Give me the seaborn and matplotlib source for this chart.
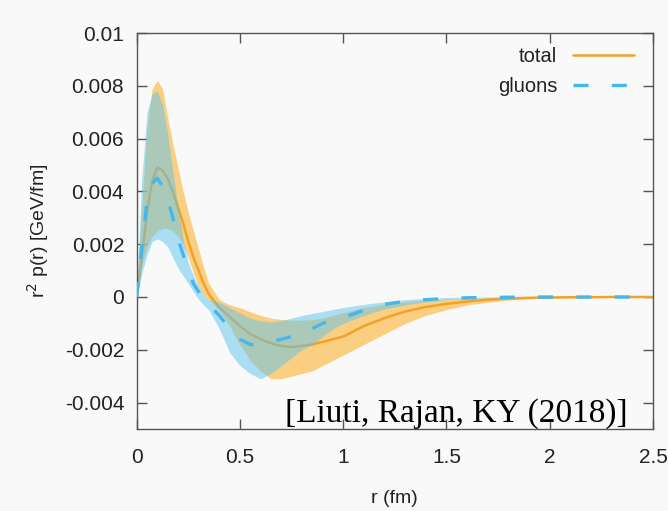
import numpy as np
import pandas as pd
import matplotlib
matplotlib.use("Agg")
import matplotlib.pyplot as plt
import seaborn as sns

# ---- data ----
r = [0.0, 0.025, 0.05, 0.075, 0.1, 0.125, 0.15, 0.175, 0.2, 0.225, 0.25, 0.275,
     0.3, 0.325, 0.35, 0.4, 0.45, 0.5, 0.55, 0.6, 0.65, 0.7, 0.75, 0.8, 0.85,
     0.9, 0.95, 1.0, 1.1, 1.2, 1.3, 1.4, 1.5, 1.6, 1.7, 1.8, 1.9, 2.0, 2.1,
     2.2, 2.3, 2.4, 2.5]

total = [0.0, 0.0015, 0.0032, 0.0044, 0.0049, 0.0048, 0.0045, 0.0040, 0.0034,
         0.0028, 0.0021, 0.0015, 0.0010, 0.0005, 0.0001, -0.0004, -0.00075,
         -0.0011, -0.0014, -0.0016, -0.00175, -0.00185, -0.0019, -0.00185,
         -0.0018, -0.0017, -0.0016, -0.0015, -0.0011, -0.0008, -0.00055,
         -0.00038, -0.00026, -0.00017, -0.0001, -0.00006, -0.00003, -0.00002,
         -0.00001, -0.00001, 0.0, 0.0, 0.0]
total_hi = [0.0003, 0.0035, 0.0064, 0.0079, 0.0082, 0.0079, 0.0068, 0.0058,
            0.0049, 0.0040, 0.0032, 0.0025, 0.0018, 0.0011, 0.0005, -0.0001,
            -0.0003, -0.0004, -0.00056, -0.0007, -0.0008, -0.00085, -0.00088,
            -0.00088, -0.00085, -0.0008, -0.0007, -0.0006, -0.0004, -0.00028,
            -0.00018, -0.00012, -0.00008, -0.00005, -0.00003, -0.00002,
            -0.00001, 0.0, 0.0, 0.0, 0.0, 0.0, 0.0]
total_lo = [-0.0001, 0.0012, 0.0019, 0.0023, 0.0025, 0.0026, 0.0026, 0.0025,
            0.0023, 0.0020, 0.0015, 0.0009, 0.0004, 0.0001, -0.0001, -0.0005,
            -0.0011, -0.0018, -0.0024, -0.0028, -0.0031, -0.0031, -0.0030,
            -0.0029, -0.0028, -0.0026, -0.0024, -0.0022, -0.0018, -0.0014,
            -0.0010, -0.0007, -0.00048, -0.0003, -0.0002, -0.00012, -0.00007,
            -0.00004, -0.00002, -0.00001, 0.0, 0.0, 0.0]

gluons = [0.0, 0.0019, 0.0036, 0.0043, 0.0045, 0.0042, 0.0037, 0.0030, 0.0022,
          0.0016, 0.0010, 0.0005, 0.0002, -0.0001, -0.0003, -0.0007, -0.0012,
          -0.0016, -0.0018, -0.0018, -0.0017, -0.0016, -0.0015, -0.0013,
          -0.0012, -0.0010, -0.0009, -0.00078, -0.0005, -0.00028, -0.00016,
          -0.0001, -0.00006, -0.00003, -0.00002, -0.00001, 0.0, 0.0, 0.0, 0.0,
          0.0, 0.0, 0.0]
gluons_hi = [0.0003, 0.0045, 0.0070, 0.0077, 0.0078, 0.0073, 0.0062, 0.0048,
             0.0034, 0.0022, 0.0013, 0.0008, 0.0004, 0.0001, -0.0001, -0.0002,
             -0.0004, -0.0006, -0.0008, -0.0009, -0.00095, -0.0009, -0.0008,
             -0.0007, -0.00062, -0.00055, -0.00047, -0.0004, -0.00028,
             -0.00018, -0.0001, -0.00005, -0.00002, -0.00001, 0.0, 0.0, 0.0,
             0.0, 0.0, 0.0, 0.0, 0.0, 0.0]
gluons_lo = [-0.0001, 0.0009, 0.0016, 0.0021, 0.0022, 0.0021, 0.0019, 0.0015,
             0.0011, 0.0008, 0.0005, 0.0002, -0.0001, -0.0003, -0.0005,
             -0.0012, -0.0021, -0.0026, -0.0029, -0.0031, -0.0029, -0.0026,
             -0.0023, -0.0020, -0.0018, -0.0015, -0.0012, -0.0010, -0.0007,
             -0.00045, -0.0003, -0.00018, -0.0001, -0.00006, -0.00003,
             -0.00002, -0.00001, 0.0, 0.0, 0.0, 0.0, 0.0, 0.0]

x_ticks = [0, 0.5, 1, 1.5, 2, 2.5]
x_ticklabels = ["0", "0.5", "1", "1.5", "2", "2.5"]
y_ticks = [-0.004, -0.002, 0, 0.002, 0.004, 0.006, 0.008, 0.01]
y_ticklabels = ["-0.004", "-0.002", "0", "0.002", "0.004", "0.006", "0.008", "0.01"]

df = pd.DataFrame({"r": r * 2,
                   "val": total + gluons,
                   "series": ["total"] * len(r) + ["gluons"] * len(r)})

# ---- style ----
sns.set_theme(style="white")
plt.rcParams["font.family"] = ["Liberation Sans", "DejaVu Sans"]
bg = "#f9f9f9"
orange = "#f2a129"
blue = "#45b7ea"

fig = plt.figure(figsize=(6.68, 5.11), dpi=100, facecolor=bg)
ax = fig.add_axes([0.2046, 0.1605, 0.7729, 0.7749])
ax.set_facecolor(bg)

ax.fill_between(r, total_lo, total_hi, color="#fbb941", alpha=0.65, lw=0, zorder=1)
sns.lineplot(data=df[df.series == "total"], x="r", y="val", ax=ax,
             color=orange, lw=1.8, label="total", zorder=1.5)
ax.fill_between(r, gluons_lo, gluons_hi, color="#5cc4ef", alpha=0.5, lw=0, zorder=2)
sns.lineplot(data=df[df.series == "gluons"], x="r", y="val", ax=ax,
             color=blue, lw=2.4, dashes=False, label="gluons", zorder=4)
ax.lines[1].set_dashes([4.5, 7])

ax.set_xlim(0, 2.5)
ax.set_ylim(-0.005, 0.01)
ax.set_xticks(x_ticks)
ax.set_xticklabels(x_ticklabels)
ax.set_yticks(y_ticks)
ax.set_yticklabels(y_ticklabels)
ax.tick_params(axis="both", direction="in", length=7, width=1.0, color="#555555",
               labelsize=15, labelcolor="#222222", top=True, right=True,
               bottom=True, left=True)
ax.tick_params(axis="x", pad=14)
ax.tick_params(axis="y", pad=9)
for s in ax.spines.values():
    s.set_color("#555555")
    s.set_linewidth(1.0)

ax.set_xlabel("r (fm)", fontsize=14, color="#222222", labelpad=16)
ax.set_ylabel(r"r$^2$ p(r) [GeV/fm]", fontsize=14, color="#222222", labelpad=10)

leg = ax.legend(loc="upper right", frameon=False, fontsize=14.5, markerfirst=False,
                handlelength=3.0, borderaxespad=0.3, labelspacing=0.55,
                bbox_to_anchor=(0.99, 1.0))
for t in leg.get_texts():
    t.set_color("#222222")

ax.text(0.95, 0.0, "[Liuti, Rajan, KY (2018)]", transform=ax.transAxes,
        ha="right", va="bottom", fontsize=24, family="Liberation Serif",
        color="black", zorder=6)

fig.savefig("out.png", dpi=100, facecolor=bg)
